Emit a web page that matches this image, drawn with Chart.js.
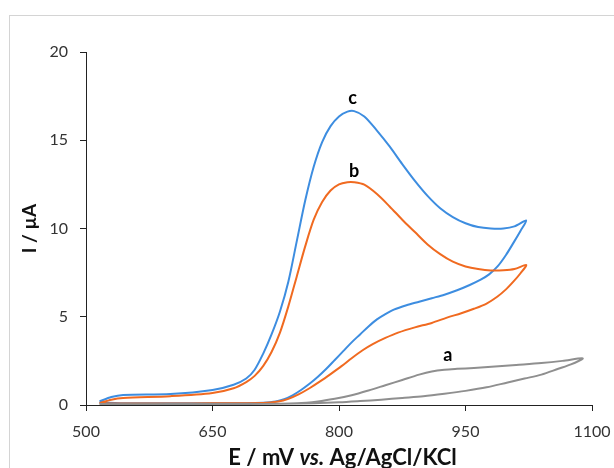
<!DOCTYPE html>
<html>
<head>
<meta charset="utf-8">
<script src="https://cdn.jsdelivr.net/npm/chart.js@4.4.0/dist/chart.umd.min.js"></script>
<style>
  body { margin: 0; background: #fff; }
  #wrap { position: relative; width: 614px; height: 468px; overflow: hidden; }
  #frame { position: absolute; left: 9px; top: 15px; width: 700px; height: 600px; border: 1px solid #d4d4d4; }
  #chart { position: absolute; left: 0; top: 0; }
</style>
</head>
<body>
<div id="wrap">
  <div id="frame"></div>
  <canvas id="chart" width="614" height="468"></canvas>
</div>
<script>
// Cyclic voltammograms, E in mV vs Ag/AgCl/KCl, I in uA

// curve a (grey): forward scan then return scan
const aE = [516, 600, 700, 750, 775, 795, 815, 835, 855, 875, 895, 910, 925, 940, 960, 985, 1010, 1040, 1065, 1089,
            1075, 1060, 1040, 1020, 1000, 975, 950, 925, 900, 875, 850, 825, 800, 770, 730, 650, 516];
const aI = [0.05, 0.05, 0.06, 0.1, 0.2, 0.35, 0.55, 0.82, 1.12, 1.42, 1.72, 1.9, 2.0, 2.05, 2.1, 2.18, 2.27, 2.38, 2.5, 2.64,
            2.3, 2.05, 1.72, 1.5, 1.28, 1.0, 0.8, 0.64, 0.5, 0.4, 0.3, 0.22, 0.15, 0.1, 0.07, 0.05, 0.05];

// curve b (orange)
const bE = [516, 530, 544, 600, 650, 675, 690, 700, 710, 720, 730, 740, 750, 760, 770, 780, 790, 800, 810, 818, 830, 845, 860, 875, 890, 905, 920, 935, 950, 965, 980, 995, 1008, 1022,
            1015, 1007, 998, 988, 975, 960, 945, 928, 910, 890, 870, 855, 840, 828, 815, 803, 790, 778, 765, 752, 740, 728, 710, 650, 600, 516];
const bI = [0.1, 0.3, 0.4, 0.5, 0.68, 0.95, 1.3, 1.65, 2.2, 3.0, 4.1, 5.6, 7.3, 9.0, 10.5, 11.5, 12.15, 12.5, 12.62, 12.62, 12.48, 11.95, 11.25, 10.5, 9.8, 9.1, 8.55, 8.12, 7.85, 7.7, 7.62, 7.63, 7.7, 7.93,
            7.45, 7.0, 6.55, 6.15, 5.75, 5.45, 5.2, 4.95, 4.65, 4.4, 4.1, 3.8, 3.45, 3.1, 2.65, 2.2, 1.75, 1.35, 0.95, 0.6, 0.35, 0.2, 0.12, 0.1, 0.08, 0.1];

// curve c (blue)
const cE = [516, 530, 544, 600, 650, 675, 690, 700, 710, 720, 730, 740, 750, 760, 770, 780, 790, 800, 810, 818, 830, 845, 860, 875, 890, 905, 920, 935, 950, 965, 980, 995, 1008, 1022,
            1015, 1007, 998, 988, 978, 968, 955, 940, 925, 910, 895, 880, 865, 855, 845, 835, 825, 815, 805, 795, 785, 775, 765, 755, 745, 735, 725, 710, 690, 650, 600, 550, 516];
const cI = [0.2, 0.45, 0.57, 0.62, 0.85, 1.15, 1.5, 2.0, 2.9, 4.0, 5.3, 7.0, 9.3, 11.6, 13.5, 14.9, 15.8, 16.35, 16.62, 16.65, 16.35, 15.55, 14.65, 13.65, 12.7, 11.85, 11.15, 10.65, 10.3, 10.08, 10.0, 10.0, 10.12, 10.45,
            9.85, 9.2, 8.5, 7.85, 7.4, 7.1, 6.8, 6.5, 6.25, 6.05, 5.85, 5.65, 5.4, 5.15, 4.85, 4.45, 4.0, 3.55, 3.05, 2.55, 2.05, 1.6, 1.2, 0.85, 0.55, 0.33, 0.2, 0.13, 0.1, 0.1, 0.1, 0.1, 0.15];

// curve labels
const labelText = ['a', 'b', 'c'];
const labelE = [929, 818, 816];
const labelI = [2.84, 13.27, 17.4];

const xTicks = [500, 650, 800, 950, 1100];
const yTicks = [0, 5, 10, 15, 20];

function toPoints(xs, ys) {
  return xs.map((x, i) => ({ x: x, y: ys[i] }));
}

const FONT = 'Lato, "Open Sans", sans-serif';

// curve letters and the mixed-style x axis title
const annotations = {
  id: 'annotations',
  afterDraw(chart) {
    const ctx = chart.ctx;
    const xs = chart.scales.x, ys = chart.scales.y;
    ctx.save();
    ctx.fillStyle = '#000';
    ctx.font = 'bold 18px ' + FONT;
    ctx.textAlign = 'center';
    ctx.textBaseline = 'middle';
    labelText.forEach((t, i) => {
      ctx.fillText(t, xs.getPixelForValue(labelE[i]), ys.getPixelForValue(labelI[i]));
    });

    const parts = [
      { t: 'E / mV ', f: 'bold 22px ' + FONT },
      { t: 'vs.', f: 'italic bold 22px ' + FONT },
      { t: ' Ag/AgCl/KCl', f: 'bold 22px ' + FONT }
    ];
    let total = 0;
    parts.forEach(p => { ctx.font = p.f; p.w = ctx.measureText(p.t).width; total += p.w; });
    let x = 342.5 - total / 2;
    ctx.textAlign = 'left';
    ctx.textBaseline = 'alphabetic';
    ctx.fillStyle = '#111';
    parts.forEach(p => { ctx.font = p.f; ctx.fillText(p.t, x, 465); x += p.w; });
    ctx.restore();
  }
};

new Chart(document.getElementById('chart'), {
  type: 'scatter',
  data: {
    datasets: [
      { label: 'a', data: toPoints(aE, aI), borderColor: '#8f8f8f' },
      { label: 'b', data: toPoints(bE, bI), borderColor: '#f06a20' },
      { label: 'c', data: toPoints(cE, cI), borderColor: '#3d8de0' }
    ]
  },
  options: {
    responsive: false,
    animation: false,
    showLine: true,
    elements: {
      point: { radius: 0 },
      line: { borderWidth: 2, tension: 0.3, fill: false }
    },
    layout: { padding: { left: 0, top: 52, right: 22, bottom: 0 } },
    plugins: {
      legend: { display: false },
      tooltip: { enabled: false }
    },
    scales: {
      x: {
        type: 'linear',
        min: 500,
        max: 1100,
        afterFit(scale) {
          scale.height = 63;
          scale.paddingLeft = 0;
          scale.paddingRight = 0;
        },
        afterBuildTicks(scale) { scale.ticks = xTicks.map(v => ({ value: v })); },
        grid: { drawOnChartArea: false, drawTicks: true, tickLength: 6, color: '#222', lineWidth: 1 },
        border: { display: true, color: '#222', width: 1 },
        ticks: { padding: 11, color: '#333', font: { family: FONT, size: 16 }, callback: v => String(v) }
      },
      y: {
        type: 'linear',
        min: 0,
        max: 20,
        afterFit(scale) {
          scale.width = 86;
          scale.paddingTop = 0;
          scale.paddingBottom = 0;
        },
        afterBuildTicks(scale) { scale.ticks = yTicks.map(v => ({ value: v })); },
        grid: { drawOnChartArea: false, drawTicks: true, tickLength: 6, color: '#222', lineWidth: 1 },
        border: { display: true, color: '#222', width: 1 },
        ticks: { padding: 12, color: '#333', font: { family: FONT, size: 16 }, callback: v => String(v) },
        title: {
          display: true,
          text: 'I / µA',
          color: '#111',
          font: { family: FONT, size: 19, weight: 'bold' },
          padding: { top: 18, bottom: 0 }
        }
      }
    }
  },
  plugins: [annotations]
});
</script>
</body>
</html>
